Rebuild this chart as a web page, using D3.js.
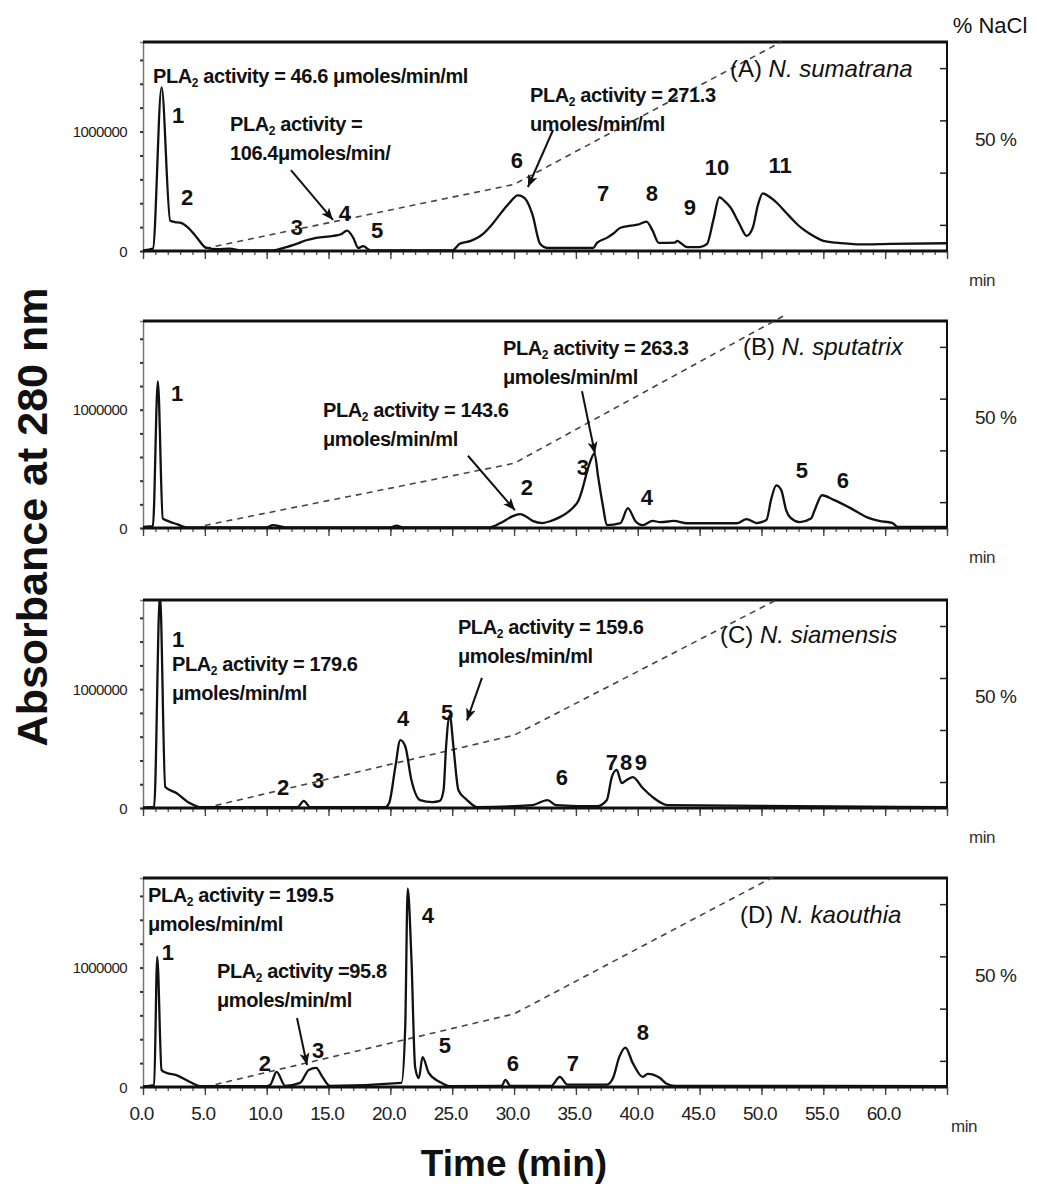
<!DOCTYPE html>
<html><head><meta charset="utf-8">
<script src="https://cdn.jsdelivr.net/npm/d3@7"></script>
<style>
html,body{margin:0;padding:0;background:#fff;}
svg{display:block;font-family:"Liberation Sans",Arial,sans-serif;}
</style></head>
<body><svg id="c" width="1037" height="1184"></svg>
<script>
// ---------------- DATA ----------------
const timeTicks = [0,5,10,15,20,25,30,35,40,45,50,55,60];
const xTickLabels = ["0.0","5.0","10.0","15.0","20.0","25.0","30.0","35.0","40.0","45.0","50.0","55.0","60.0"];
const yLabelTicks = [0, 1000000];
const yTickLabels = ["0", "1000000"];
const naclTicks = [10, 30, 50, 70];
const naclLabel = "50 %";

// chromatograms: [time (min), absorbance]
const traceA = [[0,5e3],[0.8,20e3],[1.5,1370e3],[2.2,254e3],[2.6,242e3],[3.0,237e3],[3.6,200e3],[4.3,120e3],[5.1,28e3],[6,15e3],[7,20e3],[8,5e3],[10.5,5e3],[11.5,30e3],[12.4,60e3],[13.2,90e3],[14.0,110e3],[15.4,127e3],[16.0,140e3],[16.5,170e3],[17.0,110e3],[17.4,25e3],[17.8,40e3],[18.4,5e3],[25.0,5e3],[25.6,60e3],[26.5,85e3],[27.5,144e3],[28.2,220e3],[28.9,313e3],[29.6,400e3],[30.3,466e3],[30.7,455e3],[31.0,424e3],[31.5,300e3],[32.1,60e3],[32.7,25e3],[36.4,25e3],[36.7,68e3],[37.5,110e3],[38.0,144e3],[38.6,195e3],[39.4,212e3],[40.0,220e3],[40.7,246e3],[41.2,170e3],[41.7,68e3],[43.0,70e3],[43.2,85e3],[43.5,65e3],[44.0,33e3],[45.0,33e3],[45.6,60e3],[46.1,254e3],[46.6,450e3],[47.0,420e3],[47.5,364e3],[48.2,230e3],[48.8,127e3],[49.3,195e3],[49.7,380e3],[50.1,483e3],[50.7,450e3],[51.3,398e3],[52.0,320e3],[52.6,254e3],[53.2,195e3],[53.9,144e3],[55.0,85e3],[56.0,70e3],[57.2,60e3],[58,55e3],[60.4,60e3],[65,65e3]];
const traceB = [[0,10e3],[0.8,15e3],[1.2,1240e3],[1.6,80e3],[2.0,60e3],[2.8,30e3],[3.5,5e3],[10,5e3],[10.5,25e3],[11.5,5e3],[20,5e3],[20.5,20e3],[21,5e3],[28.0,5e3],[28.9,42e3],[30.0,105e3],[30.5,118e3],[31.0,95e3],[31.5,60e3],[32.3,42e3],[33.0,60e3],[33.7,92e3],[34.3,130e3],[34.8,176e3],[35.2,230e3],[35.5,320e3],[36.0,512e3],[36.5,630e3],[36.8,430e3],[37.2,176e3],[37.5,25e3],[38.6,42e3],[39.2,168e3],[39.8,60e3],[40.4,25e3],[41.2,60e3],[41.8,50e3],[42.5,55e3],[42.9,60e3],[44.0,40e3],[48.0,40e3],[48.8,75e3],[49.6,42e3],[50.4,67e3],[50.8,250e3],[51.2,360e3],[51.6,320e3],[52.0,150e3],[52.3,92e3],[53.1,50e3],[54.0,80e3],[54.3,150e3],[54.9,277e3],[55.8,240e3],[57.2,168e3],[58.5,92e3],[59.5,60e3],[60.6,42e3],[61,10e3],[65,10e3]];
const traceC = [[0,5e3],[0.9,10e3],[1.37,1800e3],[1.8,176e3],[2.7,126e3],[3.8,40e3],[4.6,8e3],[12.5,8e3],[13.0,60e3],[13.5,8e3],[19.6,8e3],[19.9,42e3],[20.4,345e3],[20.8,571e3],[21.2,520e3],[21.7,235e3],[22.4,67e3],[23.4,50e3],[24.0,60e3],[24.3,150e3],[24.5,513e3],[24.8,780e3],[25.1,513e3],[25.5,150e3],[26.2,67e3],[27.0,8e3],[31.5,25e3],[32.7,67e3],[33.4,25e3],[36.7,15e3],[37.5,67e3],[37.9,260e3],[38.3,320e3],[38.7,210e3],[39.1,235e3],[39.6,260e3],[40.4,168e3],[41.2,92e3],[42.4,25e3],[65,8e3]];
const traceD = [[0,5e3],[0.9,15e3],[1.15,1090e3],[1.5,143e3],[1.9,118e3],[2.7,100e3],[3.8,42e3],[4.6,8e3],[10.0,8e3],[10.3,20e3],[10.8,126e3],[11.5,10e3],[12.7,35e3],[13.4,143e3],[14.0,160e3],[14.5,85e3],[15.1,10e3],[20.9,35e3],[21.2,500e3],[21.4,1660e3],[21.7,1080e3],[22.0,168e3],[22.3,75e3],[22.6,250e3],[23.1,118e3],[24.0,42e3],[24.8,8e3],[29.0,10e3],[29.3,60e3],[29.7,10e3],[33.0,10e3],[33.7,85e3],[34.3,20e3],[37.5,20e3],[38.0,75e3],[38.5,250e3],[39.0,330e3],[39.6,200e3],[40.4,85e3],[40.8,110e3],[41.8,75e3],[42.3,30e3],[43,10e3],[65,8e3]];

// NaCl gradient: [time (min), % NaCl]
const gradientA = [[5,1],[30,25.5],[51.6,80]];
const gradientB = [[5,1],[30,25],[51.8,82]];
const gradientC = [[5,0],[30,28],[51.2,80]];
const gradientD = [[5,0],[30,28],[51,80.5]];

// peak numbers: [label, time, absorbance]
const peaksA = [["1",2.83,1072e3],["2",3.56,385e3],["3",12.45,134e3],["4",16.33,251e3],["5",18.92,109e3],["6",30.23,695e3],["7",37.19,419e3],["8",41.15,419e3],["9",44.22,302e3],["10",46.4,637e3],["11",51.5,653e3]];
const peaksB = [["1",2.75,1072e3],["2",31.04,276e3],["3",35.57,444e3],["4",40.74,193e3],["5",53.27,419e3],["6",56.59,335e3]];
const peaksC = [["1",2.83,1357e3],["2",11.32,109e3],["3",14.15,168e3],["4",21.02,687e3],["5",24.58,737e3],["6",33.87,193e3],["7",37.91,318e3],["8",39.05,318e3],["9",40.26,318e3]];
const peaksD = [["1",2.02,1064e3],["2",9.86,134e3],["3",14.15,243e3],["4",23.04,1374e3],["5",24.41,285e3],["6",29.91,134e3],["7",34.76,134e3],["8",40.42,394e3]];

// PLA2 activity notes: [text lines, time, absorbance]
const notesA = [[["PLA2 activity = 46.6 μmoles/min/ml"],0.81,1407e3],[["PLA2 activity =","106.4μmoles/min/"],7.03,1005e3],[["PLA2 activity = 271.3","umoles/min/ml"],31.29,1248e3]];
const notesB = [[["PLA2 activity = 143.6","μmoles/min/ml"],14.55,938e3],[["PLA2 activity = 263.3","μmoles/min/ml"],29.1,1466e3]];
const notesC = [[["PLA2 activity = 179.6","μmoles/min/ml"],2.34,1156e3],[["PLA2 activity = 159.6","μmoles/min/ml"],25.46,1466e3]];
const notesD = [[["PLA2 activity = 199.5","μmoles/min/ml"],0.4,1549e3],[["PLA2 activity =95.8","μmoles/min/ml"],5.98,913e3]];

// arrows: [t0, a0, t1, a1]
const arrowsA = [[11.96,678e3,15.36,260e3],[33.15,1013e3,31.12,536e3]];
const arrowsB = [[26.27,611e3,30.07,151e3],[35.49,1156e3,36.54,628e3]];
const arrowsC = [[27.4,1095e3,26.19,737e3]];
const arrowsD = [[12.45,578e3,13.26,184e3]];

const panelTags = ["(A) ","(B) ","(C) ","(D) "];
const species = ["N. sumatrana","N. sputatrix","N. siamensis","N. kaouthia"];
const tagPos = [[47.45,1457e3],[48.5,1466e3],[46.65,1386e3],[48.26,1374e3]];

// ---------------- LAYOUT ----------------
const svg = d3.select("#c");
const X0 = 143, X1 = 947;
const panelGeo = [{top:42,bottom:251},{top:321,bottom:528},{top:600,bottom:808},{top:878,bottom:1087}];
const traces = [traceA,traceB,traceC,traceD];
const grads = [gradientA,gradientB,gradientC,gradientD];
const peaks = [peaksA,peaksB,peaksC,peaksD];
const notes = [notesA,notesB,notesC,notesD];
const arrows = [arrowsA,arrowsB,arrowsC,arrowsD];
const FONT = '"Liberation Sans",Arial,sans-serif';

const x = d3.scaleLinear().domain([0,65]).range([X0,X1]);

const defs = svg.append("defs");
defs.append("marker").attr("id","arr").attr("markerUnits","userSpaceOnUse")
  .attr("markerWidth",14).attr("markerHeight",12).attr("refX",12).attr("refY",5)
  .attr("orient","auto")
  .append("path").attr("d","M0,0 L12,5 L0,10 L3,5 Z").attr("fill","#111");

panelGeo.forEach((g,i)=>{
  const y = d3.scaleLinear().domain([0,1750000]).range([g.bottom,g.top]);
  const y2 = d3.scaleLinear().domain([0,80]).range([g.bottom,g.top]);
  const p = svg.append("g");

  defs.append("clipPath").attr("id","clip"+i).append("rect")
    .attr("x",X0).attr("y",g.top).attr("width",X1-X0).attr("height",g.bottom-g.top);

  // left axis
  const la = p.append("g").attr("transform",`translate(${X0},0)`)
    .call(d3.axisLeft(y).tickValues(d3.range(0,1750001,200000)).tickSize(3)
      .tickFormat(d=>{const k=yLabelTicks.indexOf(d);return k>=0?yTickLabels[k]:"";}).tickPadding(13));
  la.select(".domain").attr("stroke","#777").attr("stroke-width",1.5);
  la.selectAll(".tick line").attr("stroke","#333").attr("stroke-width",2);
  la.selectAll(".tick text").attr("font-family",FONT).attr("font-size",15).attr("fill","#222")
    .attr("letter-spacing",-0.6).attr("dy","0.35em");
  // extra label ticks
  la.selectAll(".tick").filter(d=>d===1000000).select("line").attr("x2",-3);

  // right NaCl axis ticks
  const ra = p.append("g").attr("transform",`translate(${X1},0)`)
    .call(d3.axisLeft(y2).tickValues(naclTicks).tickSize(7).tickFormat(""));
  ra.select(".domain").remove();
  ra.selectAll(".tick line").attr("stroke","#222").attr("stroke-width",1.5);

  // bottom ticks
  const minor = p.append("g").attr("transform",`translate(0,${g.bottom})`)
    .call(d3.axisBottom(x).tickValues(d3.range(0,66,1)).tickSize(4).tickFormat(""));
  minor.select(".domain").remove();
  minor.selectAll(".tick line").attr("stroke","#444").attr("stroke-width",1.2);
  const major = p.append("g").attr("transform",`translate(0,${g.bottom})`)
    .call(d3.axisBottom(x).tickValues(timeTicks.concat([65])).tickSize(8)
      .tickFormat(d=>{const k=timeTicks.indexOf(d); return (i===3&&k>=0)?xTickLabels[k]:"";}).tickPadding(12));
  major.select(".domain").remove();
  major.selectAll(".tick line").attr("stroke","#444").attr("stroke-width",1.4);
  major.selectAll(".tick text").attr("font-family",FONT).attr("font-size",19).attr("fill","#222")
    .attr("letter-spacing",-0.8).attr("dx",-2);

  // frame: top, right, bottom
  p.append("line").attr("x1",X0).attr("x2",X1+1).attr("y1",g.top).attr("y2",g.top)
    .attr("stroke","#111").attr("stroke-width",3);
  p.append("line").attr("x1",X1).attr("x2",X1).attr("y1",g.top).attr("y2",g.bottom)
    .attr("stroke","#111").attr("stroke-width",2);

  // gradient dashed
  p.append("path").datum(grads[i])
    .attr("d",d3.line().x(d=>x(d[0])).y(d=>y2(d[1])))
    .attr("fill","none").attr("stroke","#444").attr("stroke-width",1.6).attr("stroke-dasharray","6,5");

  // trace
  p.append("path").datum(traces[i]).attr("clip-path",`url(#clip${i})`)
    .attr("d",d3.line().x(d=>x(d[0])).y(d=>y(d[1])).curve(d3.curveMonotoneX))
    .attr("fill","none").attr("stroke","#111").attr("stroke-width",2.3).attr("stroke-linejoin","round");

  // bottom axis line
  p.append("line").attr("x1",X0).attr("x2",X1).attr("y1",g.bottom).attr("y2",g.bottom)
    .attr("stroke","#111").attr("stroke-width",3);

  // peak labels
  p.selectAll("text.pk").data(peaks[i]).join("text").attr("class","pk")
    .attr("x",d=>x(d[1])).attr("y",d=>y(d[2])).attr("text-anchor","middle")
    .attr("font-family",FONT).attr("font-weight","bold").attr("font-size",22).attr("fill","#111")
    .text(d=>d[0]);

  // notes
  notes[i].forEach(n=>{
    const t = p.append("text").attr("font-family",FONT).attr("font-weight","bold")
      .attr("font-size",20).attr("fill","#111").attr("letter-spacing",-0.4);
    n[0].forEach((line,li)=>{
      const x0 = x(n[1]), y0 = y(n[2]) + li*29;
      if(line.startsWith("PLA2")){
        t.append("tspan").attr("x",x0).attr("y",y0).text("PLA");
        t.append("tspan").attr("font-size",12).attr("dy",4).text("2");
        t.append("tspan").attr("dy",-4).text(line.slice(4));
      } else {
        t.append("tspan").attr("x",x0).attr("y",y0).text(line);
      }
    });
  });

  // arrows
  p.selectAll("line.ar").data(arrows[i]).join("line").attr("class","ar")
    .attr("x1",d=>x(d[0])).attr("y1",d=>y(d[1])).attr("x2",d=>x(d[2])).attr("y2",d=>y(d[3]))
    .attr("stroke","#111").attr("stroke-width",2).attr("marker-end","url(#arr)");

  // species tag
  const tg = p.append("text").attr("x",x(tagPos[i][0])).attr("y",y(tagPos[i][1]))
    .attr("font-family",FONT).attr("font-size",24).attr("fill","#111");
  tg.append("tspan").text(panelTags[i]);
  tg.append("tspan").attr("font-style","italic").text(species[i]);

  // right label "50 %"
  p.append("text").attr("x",X1+28).attr("y",y2(43)+7)
    .attr("font-family",FONT).attr("font-size",19).attr("fill","#222").attr("letter-spacing",-0.5)
    .text(naclLabel);

  // min label
  p.append("text").attr("x",i===3?X1+4:X1+22).attr("y",i===3?g.bottom+45:g.bottom+35)
    .attr("font-family",FONT).attr("font-size",17).attr("fill","#333").attr("letter-spacing",-0.5)
    .text("min");
});

// titles
svg.append("text").attr("x",990).attr("y",33).attr("text-anchor","middle")
  .attr("font-family",FONT).attr("font-size",22).attr("fill","#111").text("% NaCl");
svg.append("text").attr("transform","translate(47,517) rotate(-90)").attr("text-anchor","middle")
  .attr("font-family",FONT).attr("font-weight","bold").attr("font-size",43).attr("fill","#111")
  .text("Absorbance at 280 nm");
svg.append("text").attr("x",514).attr("y",1176).attr("text-anchor","middle")
  .attr("font-family",FONT).attr("font-weight","bold").attr("font-size",37).attr("fill","#111")
  .text("Time (min)");
</script></body></html>
